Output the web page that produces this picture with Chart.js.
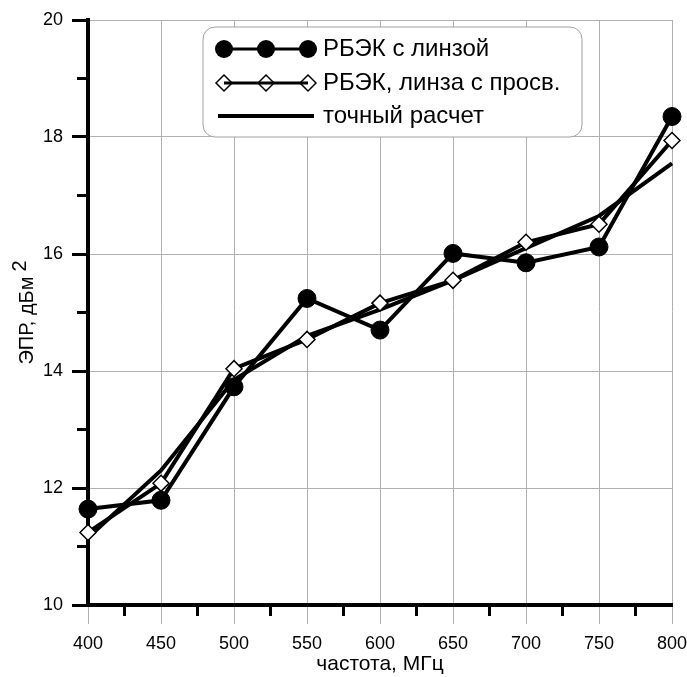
<!DOCTYPE html>
<html>
<head>
<meta charset="utf-8">
<script src="https://cdn.jsdelivr.net/npm/chart.js@4.4.0/dist/chart.umd.min.js"></script>
<style>
  html, body { margin: 0; padding: 0; background: #fff; }
  #wrap { width: 687px; height: 677px; }
</style>
</head>
<body>
<div id="wrap"><canvas id="grafico" width="687" height="677"></canvas></div>
<script>
// частоты, МГц
const freq = [400, 450, 500, 550, 600, 650, 700, 750, 800];
// РБЭК с линзой
const rbekLinza = [11.64, 11.79, 13.73, 15.24, 14.70, 16.01, 15.85, 16.12, 18.35];
// РБЭК, линза с просв.
const rbekProsv = [11.24, 12.08, 14.04, 14.54, 15.16, 15.55, 16.20, 16.51, 17.94];
// точный расчет
const tochny = [11.15, 12.3, 13.85, 14.6, 15.05, 15.55, 16.1, 16.65, 17.55];

const seriesNames = ["РБЭК с линзой", "РБЭК, линза с просв.", "точный расчет"];
const xTicks = [400, 450, 500, 550, 600, 650, 700, 750, 800];
const yTicks = [10, 12, 14, 16, 18, 20];

const FONT = "'Liberation Sans', Arial, sans-serif";
const GRID = "#b0b0b0";

function puntos(vals) {
  return freq.map((f, i) => ({ x: f, y: vals[i] }));
}

// малые деления на осях
const minorTicks = {
  id: "minorTicks",
  beforeDatasetsDraw(chart) {
    const ctx = chart.ctx;
    const xs = chart.scales.x, ys = chart.scales.y;
    ctx.save();
    ctx.strokeStyle = "#000";
    ctx.lineWidth = 3;
    ctx.beginPath();
    for (let i = 0; i < xTicks.length - 1; i++) {
      const px = xs.getPixelForValue((xTicks[i] + xTicks[i + 1]) / 2);
      ctx.moveTo(px, ys.bottom);
      ctx.lineTo(px, ys.bottom + 11);
    }
    for (let i = 0; i < yTicks.length - 1; i++) {
      const py = ys.getPixelForValue((yTicks[i] + yTicks[i + 1]) / 2);
      ctx.moveTo(xs.left - 11, py);
      ctx.lineTo(xs.left, py);
    }
    ctx.stroke();
    ctx.restore();
  }
};

// подпись оси Y с верхним индексом
const yTitle = {
  id: "yTitle",
  afterDraw(chart) {
    const ctx = chart.ctx;
    const ys = chart.scales.y;
    ctx.save();
    ctx.translate(27, (ys.top + ys.bottom) / 2);
    ctx.rotate(-Math.PI / 2);
    ctx.font = "20px " + FONT;
    ctx.fillStyle = "#000";
    ctx.textBaseline = "middle";
    ctx.textAlign = "left";
    const main = "ЭПР, дБм";
    const w1 = ctx.measureText(main).width;
    const w2 = ctx.measureText("2").width;
    const start = -(w1 + 5 + w2) / 2;
    ctx.fillText(main, start, 0);
    ctx.fillText("2", start + w1 + 5, -7);
    ctx.restore();
  }
};

// легенда в рамке
const legendBox = {
  id: "legendBox",
  afterDraw(chart) {
    const ctx = chart.ctx;
    const bx = 203, by = 27, bw = 379, bh = 110, r = 12;
    ctx.save();
    ctx.beginPath();
    ctx.roundRect(bx, by, bw, bh, r);
    ctx.fillStyle = "#fff";
    ctx.fill();
    ctx.strokeStyle = "#a0a0a0";
    ctx.lineWidth = 1;
    ctx.stroke();

    const rows = [49, 83, 116];
    const mx = [224, 266, 308];

    // строка 1 - круги
    ctx.strokeStyle = "#000";
    ctx.lineWidth = 3;
    ctx.beginPath();
    ctx.moveTo(mx[0], rows[0]);
    ctx.lineTo(mx[2], rows[0]);
    ctx.stroke();
    ctx.fillStyle = "#000";
    mx.forEach((x) => {
      ctx.beginPath();
      ctx.arc(x, rows[0], 9, 0, Math.PI * 2);
      ctx.fill();
    });

    // строка 2 - ромбы
    mx.forEach((x) => {
      ctx.beginPath();
      ctx.moveTo(x - 8, rows[1]);
      ctx.lineTo(x, rows[1] - 8);
      ctx.lineTo(x + 8, rows[1]);
      ctx.lineTo(x, rows[1] + 8);
      ctx.closePath();
      ctx.fillStyle = "#fff";
      ctx.fill();
      ctx.lineWidth = 1.5;
      ctx.stroke();
    });
    ctx.lineWidth = 3;
    ctx.beginPath();
    ctx.moveTo(mx[0], rows[1]);
    ctx.lineTo(mx[2], rows[1]);
    ctx.stroke();

    // строка 3 - линия
    ctx.lineWidth = 4;
    ctx.beginPath();
    ctx.moveTo(218, rows[2]);
    ctx.lineTo(314, rows[2]);
    ctx.stroke();

    ctx.fillStyle = "#000";
    ctx.font = "24px " + FONT;
    ctx.textBaseline = "middle";
    ctx.textAlign = "left";
    seriesNames.forEach((t, i) => ctx.fillText(t, 323, rows[i]));
    ctx.restore();
  }
};

const ctx = document.getElementById("grafico").getContext("2d");
new Chart(ctx, {
  type: "line",
  data: {
    datasets: [
      {
        label: seriesNames[0],
        data: puntos(rbekLinza),
        borderColor: "#000",
        borderWidth: 4,
        pointStyle: "circle",
        pointRadius: 9,
        pointBackgroundColor: "#000",
        pointBorderColor: "#000",
        pointBorderWidth: 1,
        clip: false
      },
      {
        label: seriesNames[1],
        data: puntos(rbekProsv),
        borderColor: "#000",
        borderWidth: 4,
        pointStyle: "rectRot",
        pointRadius: 8,
        pointBackgroundColor: "#fff",
        pointBorderColor: "#000",
        pointBorderWidth: 1.5,
        clip: false
      },
      {
        label: seriesNames[2],
        data: puntos(tochny),
        borderColor: "#000",
        borderWidth: 4,
        pointRadius: 0,
        clip: false
      }
    ]
  },
  options: {
    responsive: false,
    animation: false,
    layout: { padding: { top: 20, right: 15, bottom: 0, left: 0 } },
    plugins: { legend: { display: false }, tooltip: { enabled: false } },
    scales: {
      x: {
        type: "linear",
        min: 400,
        max: 800,
        afterBuildTicks: (s) => { s.ticks = xTicks.map((v) => ({ value: v })); },
        afterFit: (s) => { s.height = 72; s.paddingLeft = 0; s.paddingRight = 0; },
        ticks: { color: "#000", font: { size: 18, family: FONT }, padding: 9, maxRotation: 0 },
        grid: { color: GRID, lineWidth: 1, tickLength: 19, tickColor: GRID },
        border: { display: true, color: "#000", width: 4 },
        title: { display: true, text: "частота, МГц", color: "#000", font: { size: 21, family: FONT }, padding: { top: 0, bottom: 0 } }
      },
      y: {
        min: 10,
        max: 20,
        afterBuildTicks: (s) => { s.ticks = yTicks.map((v) => ({ value: v })); },
        afterFit: (s) => { s.width = 88; },
        ticks: { color: "#000", font: { size: 18, family: FONT }, padding: 9 },
        grid: { color: GRID, lineWidth: 1, tickLength: 16, tickColor: "#000", tickWidth: 3 },
        border: { display: true, color: "#000", width: 4 }
      }
    }
  },
  plugins: [minorTicks, yTitle, legendBox]
});
</script>
</body>
</html>
